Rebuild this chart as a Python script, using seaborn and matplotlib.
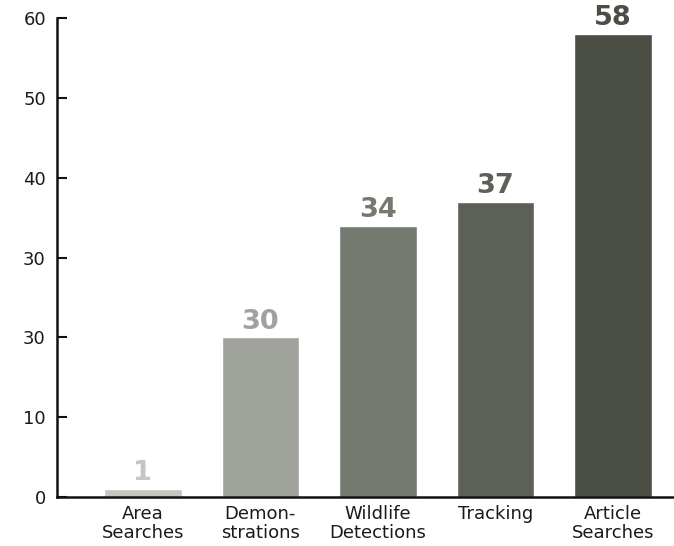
import matplotlib
matplotlib.use("Agg")
import matplotlib.pyplot as plt
import seaborn as sns
import pandas as pd

categories = ["Area\nSearches", "Demon-\nstrations", "Wildlife\nDetections", "Tracking", "Article\nSearches"]
# bar heights as drawn against the axis, and the numbers printed above them
values = [1, 20, 34, 37, 58]
value_labels = ["1", "30", "34", "37", "58"]
bar_colors = ["#c5c6c0", "#a0a39c", "#747a70", "#5d6057", "#4b4e44"]
ytick_values = [0, 10, 20, 30, 40, 50, 60]
ytick_labels = ["0", "10", "30", "30", "40", "50", "60"]

sns.set_theme(style="white")
plt.rcParams["font.family"] = ["DejaVu Sans"]

df = pd.DataFrame({"category": categories, "value": values})

fig = plt.figure(figsize=(6.74, 5.46), dpi=100)
ax = fig.add_axes([0.0846, 0.0897, 0.9154, 0.877])

sns.barplot(data=df, x="category", y="value", hue="category", palette=bar_colors,
            legend=False, width=0.66, saturation=1, ax=ax)

for i, v in enumerate(values):
    ax.text(i, v + 0.35, value_labels[i], ha="center", va="bottom", fontsize=19.5,
            fontweight="bold", color=bar_colors[i])

ax.set_xlim(-0.73, 4.52)
ax.set_ylim(0, 60)
ax.set_yticks(ytick_values)
ax.set_yticklabels(ytick_labels)
ax.set_xlabel("")
ax.set_ylabel("")

for s in ["top", "right"]:
    ax.spines[s].set_visible(False)
for s in ["left", "bottom"]:
    ax.spines[s].set_color("#111111")
    ax.spines[s].set_linewidth(1.8)

ax.tick_params(axis="y", direction="in", length=7, width=1.5, color="#111111",
               labelsize=13, labelcolor="#1a1a1a", pad=8, left=True)
ax.tick_params(axis="x", length=0, labelsize=13, labelcolor="#1a1a1a", pad=6)
for lbl in ax.get_xticklabels():
    lbl.set_linespacing(1.08)

fig.savefig("out.png", dpi=100, facecolor="white")
